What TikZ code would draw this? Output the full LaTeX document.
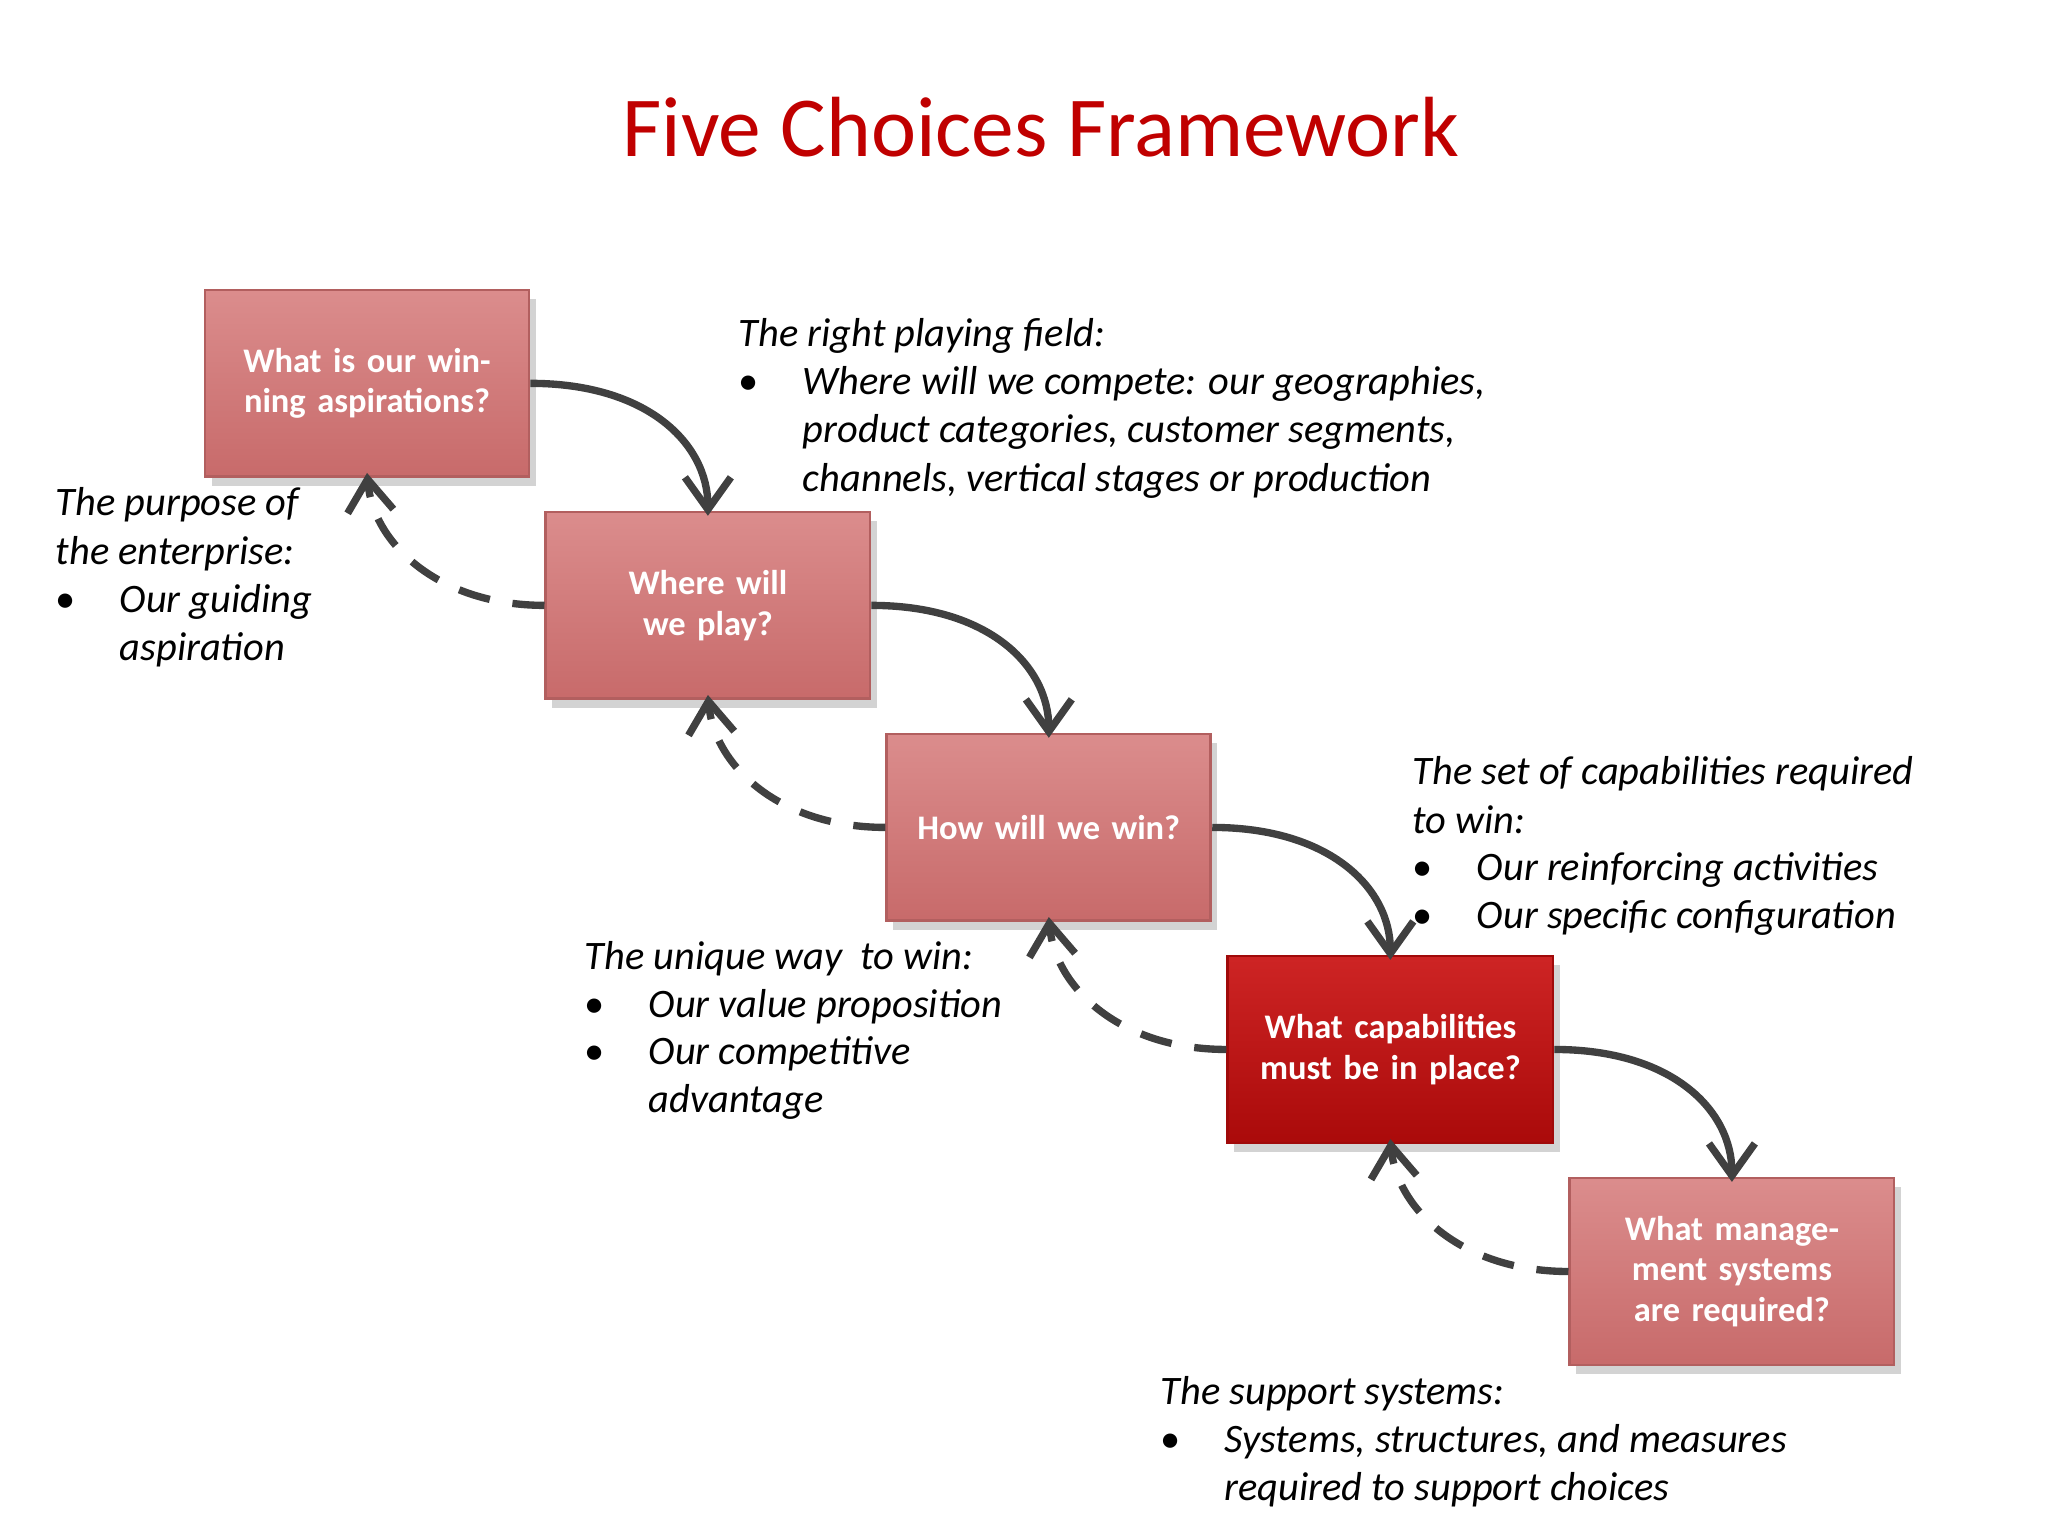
\documentclass[tikz,border=0pt]{standalone}
\usepackage{fontspec}
\setmainfont{Carlito}
\usetikzlibrary{arrows.meta,shadows}
\definecolor{titlered}{RGB}{192,0,0}
\definecolor{boxred}{RGB}{210,112,112}
\definecolor{boxdark}{RGB}{200,12,12}
\definecolor{arrowgray}{RGB}{64,64,64}
\begin{document}
\begin{tikzpicture}[x=0.01cm,y=-0.01cm,
  box/.style={draw=boxred!85!black,line width=0.6pt,minimum width=248\pgflinewidth,text width=2.1cm,align=center,
     font=\fontsize{7.5pt}{8.9pt}\selectfont\bfseries,text=white,inner sep=0pt,
     drop shadow={shadow xshift=0.3ex,shadow yshift=-0.4ex,opacity=0.35}},
  lite/.style={box,top color=boxred!80!white,bottom color=boxred!95!black},
  dark/.style={box,top color=boxdark!90!white,bottom color=boxdark!85!black,draw=boxdark!80!black},
  solidarr/.style={draw=arrowgray,line width=1.6pt,-{Straight Barb[length=7pt,width=10pt]}},
  dasharr/.style={draw=arrowgray,line width=1.6pt,dash pattern=on 7pt off 5pt,-{Straight Barb[length=7pt,width=10pt]}},
  txt/.style={anchor=base west,inner sep=0pt,font=\fontsize{8.8pt}{10.5pt}\selectfont\itshape},
  bul/.style={anchor=base west,inner sep=0pt,font=\fontsize{8.8pt}{10.5pt}\selectfont}]
\useasboundingbox (0,0) rectangle (1568,1176);
\node[anchor=base,font=\fontsize{18.6pt}{22pt}\selectfont,text=titlered] (title) at (797,120) {Five Choices Framework};
% boxes
\node[lite,minimum width=2.48cm,minimum height=1.43cm] (b1) at (281,293.5) {What is our winning aspirations?};
\node[lite,minimum width=2.48cm,minimum height=1.43cm] (b2) at (542,463.5) {Where will we play?};
\node[lite,minimum width=2.48cm,minimum height=1.43cm] (b3) at (803,633.5) {How will we win?};
\node[dark,minimum width=2.49cm,minimum height=1.43cm] (b4) at (1064.5,803.5) {What capabilities must be in place?};
\node[lite,minimum width=2.48cm,minimum height=1.43cm,text width=2.3cm] (b5) at (1326,973.5) {What management systems are required?};
% solid arrows
\draw[solidarr] (b1.east) .. controls +(90,0) and +(0,-55) .. ([yshift=-0.04cm]b2.north);
\draw[solidarr] (b2.east) .. controls +(90,0) and +(0,-55) .. ([yshift=-0.04cm]b3.north);
\draw[solidarr] (b3.east) .. controls +(90,0) and +(0,-55) .. ([yshift=-0.04cm]b4.north);
\draw[solidarr] (b4.east) .. controls +(90,0) and +(0,-55) .. ([yshift=-0.04cm]b5.north);
% dashed arrows
\draw[dasharr] (b2.west) .. controls +(-80,0) and +(5,55) .. ([yshift=0.04cm]b1.south);
\draw[dasharr] (b3.west) .. controls +(-80,0) and +(5,55) .. ([yshift=0.04cm]b2.south);
\draw[dasharr] (b4.west) .. controls +(-80,0) and +(5,55) .. ([yshift=0.04cm]b3.south);
\draw[dasharr] (b5.west) .. controls +(-80,0) and +(5,55) .. ([yshift=0.04cm]b4.south);
% text blocks
\node[txt] (t1a) at (565,265) {The right playing field:};
\node[bul] (t1b) at (565,302) {•};
\node[txt] (t1c) at (614,302) {Where will we compete: our geographies,};
\node[txt] (t1d) at (614,339) {product categories, customer segments,};
\node[txt] (t1e) at (614,376) {channels, vertical stages or production};
\node[txt] (t2a) at (42,395) {The purpose of};
\node[txt] (t2b) at (42,432) {the enterprise:};
\node[bul] (t2c) at (42,469) {•};
\node[txt] (t2d) at (91,469) {Our guiding};
\node[txt] (t2e) at (91,506) {aspiration};
\node[txt] (t3a) at (1081,601) {The set of capabilities required};
\node[txt] (t3b) at (1081,638) {to win:};
\node[bul] (t3c) at (1081,674) {•};
\node[txt] (t3d) at (1130,674) {Our reinforcing activities};
\node[bul] (t3e) at (1081,711) {•};
\node[txt] (t3f) at (1130,711) {Our specific configuration};
\node[txt] (t4a) at (447,742) {The unique way\ \ to win:};
\node[bul] (t4b) at (447,779) {•};
\node[txt] (t4c) at (496,779) {Our value proposition};
\node[bul] (t4d) at (447,815) {•};
\node[txt] (t4e) at (496,815) {Our competitive};
\node[txt] (t4f) at (496,852) {advantage};
\node[txt] (t5a) at (888,1075) {The support systems:};
\node[bul] (t5b) at (888,1112) {•};
\node[txt] (t5c) at (937,1112) {Systems, structures, and measures};
\node[txt] (t5d) at (937,1149) {required to support choices};
\end{tikzpicture}
\end{document}
